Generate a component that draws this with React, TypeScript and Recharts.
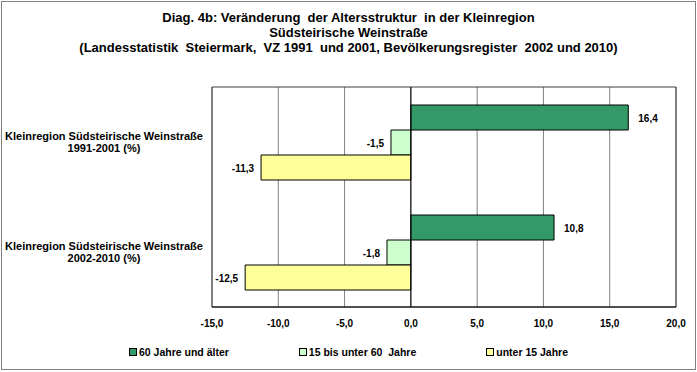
import { BarChart, Bar, XAxis, YAxis, CartesianGrid, ReferenceLine, ReferenceArea, LabelList } from "recharts";

const regions = ["1991-2001 (%)", "2002-2010 (%)"];
const seniors = [16.4, 10.8];
const adults = [-1.5, -1.8];
const kids = [-11.3, -12.5];
const xTicks = [-15, -10, -5, 0, 5, 10, 15, 20];

const series = [
  { key: "seniors", name: "60 Jahre und älter", color: "#339966" },
  { key: "adults", name: "15 bis unter 60  Jahre", color: "#CCFFCC" },
  { key: "kids", name: "unter 15 Jahre", color: "#FFFF99" },
];

const titleLines = [
  "Diag. 4b: Veränderung  der Altersstruktur  in der Kleinregion",
  "Südsteirische Weinstraße",
  "(Landesstatistik  Steiermark,  VZ 1991  und 2001, Bevölkerungsregister  2002 und 2010)",
];

const data = regions.map((period, i) => ({
  name: period,
  seniors: seniors[i],
  adults: adults[i],
  kids: kids[i],
}));

const FONT = "'Liberation Sans', Arial, sans-serif";
const fmt = (v: number) => v.toFixed(1).replace(".", ",");

function RegionTick({ x, y, payload }: any) {
  return (
    <text textAnchor="middle" fontFamily={FONT} fontWeight="bold" fontSize={11} fill="#000">
      <tspan x={x / 2 + 2} y={y - 2}>Kleinregion Südsteirische Weinstraße</tspan>
      <tspan x={x / 2 + 2} y={y + 10}>{payload.value}</tspan>
    </text>
  );
}

function ValueLabel({ x, y, width, height, value }: any) {
  const left = Math.min(x, x + width);
  const right = Math.max(x, x + width);
  const neg = value < 0;
  return (
    <text
      x={neg ? left - 7 : right + 10}
      y={y + height / 2 + 4}
      textAnchor={neg ? "end" : "start"}
      fontFamily={FONT}
      fontWeight="bold"
      fontSize={10}
      fill="#000"
    >
      {fmt(value)}
    </text>
  );
}

export default function App() {
  return (
    <div style={{ position: "absolute", left: 0, top: 0, width: 697, height: 372, background: "#fff", fontFamily: FONT }}>
      <div
        style={{
          position: "absolute",
          left: 1,
          top: 1,
          width: 695,
          height: 369,
          border: "1px solid #808080",
          boxSizing: "border-box",
        }}
      />
      <div
        style={{
          position: "absolute",
          left: 0,
          top: 10,
          width: 697,
          textAlign: "center",
          fontWeight: "bold",
          fontSize: 13,
          lineHeight: "15px",
          whiteSpace: "pre",
        }}
      >
        {titleLines.map((t) => (
          <div key={t}>{t}</div>
        ))}
      </div>
      <div style={{ position: "absolute", left: 0, top: 0 }}>
        <BarChart
          width={697}
          height={372}
          data={data}
          layout="vertical"
          margin={{ top: 87, right: 21, bottom: 35, left: 0 }}
          barCategoryGap={18}
          barGap={0}
        >
          <CartesianGrid vertical horizontal={false} stroke="#808080" />
          <ReferenceArea x1={-15} x2={20} fill="none" stroke="#404040" strokeWidth={1} />
          <XAxis
            type="number"
            domain={[-15, 20]}
            ticks={xTicks}
            tickFormatter={fmt}
            axisLine={{ stroke: "#000" }}
            tickLine={false}
            tickSize={6}
            tickMargin={7}
            height={30}
            tick={{ fontFamily: FONT, fontWeight: "bold", fontSize: 10, fill: "#000" }}
          />
          <YAxis type="category" dataKey="name" width={212} axisLine={false} tickLine={false} tick={<RegionTick />} />
          {series.map((s) => (
            <Bar key={s.key} dataKey={s.key} name={s.name} fill={s.color} stroke="#000" strokeWidth={1} isAnimationActive={false}>
              <LabelList dataKey={s.key} content={<ValueLabel />} />
            </Bar>
          ))}
          <ReferenceLine x={0} stroke="#000" strokeWidth={1} />
        </BarChart>
      </div>
      <div
        style={{
          position: "absolute",
          left: 0,
          top: 346,
          width: 697,
          display: "flex",
          justifyContent: "center",
          gap: 70,
          fontWeight: "bold",
          fontSize: 10.5,
          whiteSpace: "pre",
        }}
      >
        {series.map((s) => (
          <div key={s.key} style={{ display: "flex", alignItems: "center" }}>
            <span
              style={{
                display: "inline-block",
                width: 6,
                height: 6,
                background: s.color,
                border: "1px solid #000",
                marginRight: 2,
              }}
            />
            <span>{s.name}</span>
          </div>
        ))}
      </div>
    </div>
  );
}
